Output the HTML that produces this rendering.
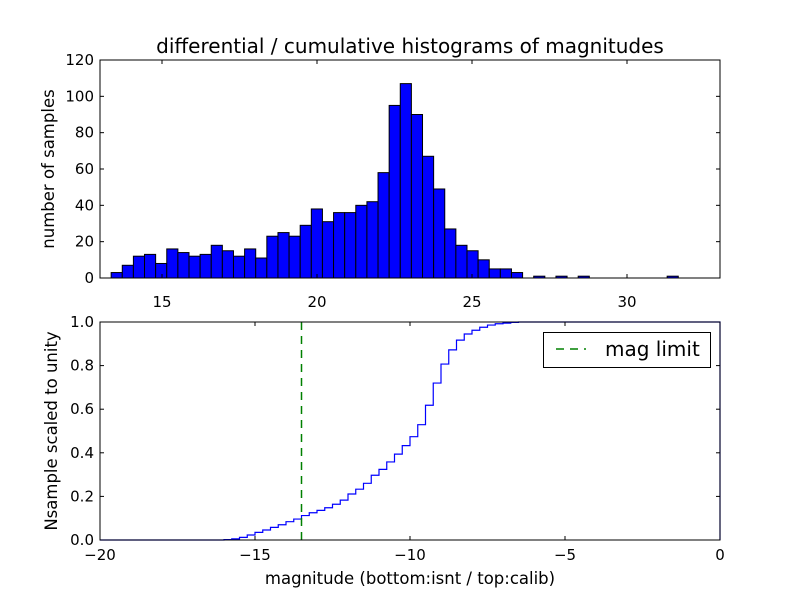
<!DOCTYPE html>
<html><head><meta charset="utf-8"><style>
body{margin:0;background:#fff}
svg text{font-family:"DejaVu Sans","Liberation Sans",sans-serif;fill:#000}
</style></head><body>
<svg id="fig" width="800" height="600" xmlns="http://www.w3.org/2000/svg">
<rect width="800" height="600" fill="#fff"/>
<g id="topgroup"></g>
<g id="botgroup"></g>
</svg>
<script>
const histStart = 13.36;
const histBinWidth = 0.3587;
const histCounts = [3,7,12,13,8,16,14,12,13,18,15,12,16,11,23,25,23,29,38,31,36,36,40,42,58,95,107,90,67,49,27,18,15,10,5,5,3,0,1,0,1,0,1,0,0,0,0,0,0,0,1];
const topXTicks = [15,20,25,30];
const topYTicks = [0,20,40,60,80,100,120];
const cumStart = -16;
const cumBinWidth = 0.25;
const cumLevels = [0.002,0.005,0.012,0.023,0.035,0.046,0.058,0.070,0.084,0.096,0.112,0.125,0.136,0.148,0.164,0.183,0.211,0.233,0.260,0.297,0.324,0.358,0.394,0.433,0.474,0.529,0.618,0.720,0.807,0.872,0.917,0.945,0.962,0.976,0.986,0.992,0.995,0.998,1.0];
const magLimit = [-13.5];
const botXTicks = [-20,-15,-10,-5,0];
const botYTicks = [0,0.2,0.4,0.6,0.8,1.0];

const NS="http://www.w3.org/2000/svg";
function mk(parent,tag,attrs,text){const e=document.createElementNS(NS,tag);for(const k in attrs)e.setAttribute(k,attrs[k]);if(text!==undefined)e.textContent=text;parent.appendChild(e);return e;}

const L=100,R=720;
const tT=60,tB=278;
const txs=v=>L+(v-13)/(33-13)*(R-L);
const tys=v=>tB-v/120*(tB-tT);
const topG=document.getElementById('topgroup');
histCounts.forEach((c,i)=>{
  const x0=txs(histStart+i*histBinWidth),x1=txs(histStart+(i+1)*histBinWidth);
  const r=mk(topG,'rect',{x:x0,y:tys(c),width:x1-x0,height:tB-tys(c),fill:'#0000ff',stroke:'#000','stroke-width':1});
  
  
});
const tf=mk(topG,'rect',{x:L,y:tT,width:R-L,height:tB-tT,fill:'none',stroke:'#000','stroke-width':1});


topXTicks.forEach(v=>{const x=txs(v);
  mk(topG,'line',{x1:x,x2:x,y1:tB,y2:tB-4,stroke:'#000'});
  mk(topG,'line',{x1:x,x2:x,y1:tT,y2:tT+4,stroke:'#000'});
  const t=mk(topG,'text',{x:x,y:tB+29,'text-anchor':'middle','font-size':15},String(v));
  
  
});
topYTicks.forEach(v=>{const y=tys(v);
  mk(topG,'line',{x1:L,x2:L+4,y1:y,y2:y,stroke:'#000'});
  mk(topG,'line',{x1:R,x2:R-4,y1:y,y2:y,stroke:'#000'});
  const t=mk(topG,'text',{x:L-6,y:y+5,'text-anchor':'end','font-size':15},String(v));
  
  
});
const title=mk(topG,'text',{x:410,y:53,'text-anchor':'middle','font-size':20},'differential / cumulative histograms of magnitudes');


const tyl=mk(topG,'text',{x:0,y:0,'text-anchor':'middle','font-size':16.5,transform:'translate(54,169) rotate(-90)'},'number of samples');



const bT=322,bB=540;
const bxs=v=>L+(v+20)/20*(R-L);
const bys=v=>bB-v*(bB-bT);
const botG=document.getElementById('botgroup');
let d='M'+L+','+bys(0)+' L'+bxs(cumStart)+','+bys(0);
cumLevels.forEach((c,i)=>{const x0=bxs(cumStart+i*cumBinWidth),x1=bxs(cumStart+(i+1)*cumBinWidth);d+=' L'+x0+','+bys(c)+' L'+x1+','+bys(c);});
d+=' L'+bxs(0)+','+bys(1)+' L'+bxs(0)+','+bys(0);
const p=mk(botG,'path',{d:d,fill:'none',stroke:'#0000ff','stroke-width':1.2});


magLimit.forEach(m=>{
  const ml=mk(botG,'line',{x1:bxs(m),x2:bxs(m),y1:bT,y2:bB,stroke:'#008000','stroke-width':1.5,'stroke-dasharray':'8,6'});
  
  
});
const bf=mk(botG,'rect',{x:L,y:bT,width:R-L,height:bB-bT,fill:'none',stroke:'#000','stroke-width':1});


botXTicks.forEach(v=>{const x=bxs(v);
  mk(botG,'line',{x1:x,x2:x,y1:bB,y2:bB-4,stroke:'#000'});
  mk(botG,'line',{x1:x,x2:x,y1:bT,y2:bT+4,stroke:'#000'});
  const t=mk(botG,'text',{x:x,y:bB+20,'text-anchor':'middle','font-size':15},v<0?'\u2212'+(-v):String(v));
  
  
});
botYTicks.forEach(v=>{const y=bys(v);
  mk(botG,'line',{x1:L,x2:L+4,y1:y,y2:y,stroke:'#000'});
  mk(botG,'line',{x1:R,x2:R-4,y1:y,y2:y,stroke:'#000'});
  const t=mk(botG,'text',{x:L-6,y:y+5,'text-anchor':'end','font-size':15},v.toFixed(1));
  
  
});
const bxl=mk(botG,'text',{x:410,y:584,'text-anchor':'middle','font-size':16.5},'magnitude (bottom:isnt / top:calib)');


const byl=mk(botG,'text',{x:0,y:0,'text-anchor':'middle','font-size':16.5,transform:'translate(57,431) rotate(-90)'},'Nsample scaled to unity');


const lg=mk(botG,'g',{});


mk(lg,'rect',{x:543.5,y:332.5,width:167,height:35,fill:'#fff',stroke:'#000','stroke-width':1});
mk(lg,'line',{x1:556,x2:586,y1:349,y2:349,stroke:'#008000','stroke-width':1.5,'stroke-dasharray':'8,6'});
const lt=mk(lg,'text',{x:605,y:356,'font-size':20},'mag limit');


</script>
</body></html>
